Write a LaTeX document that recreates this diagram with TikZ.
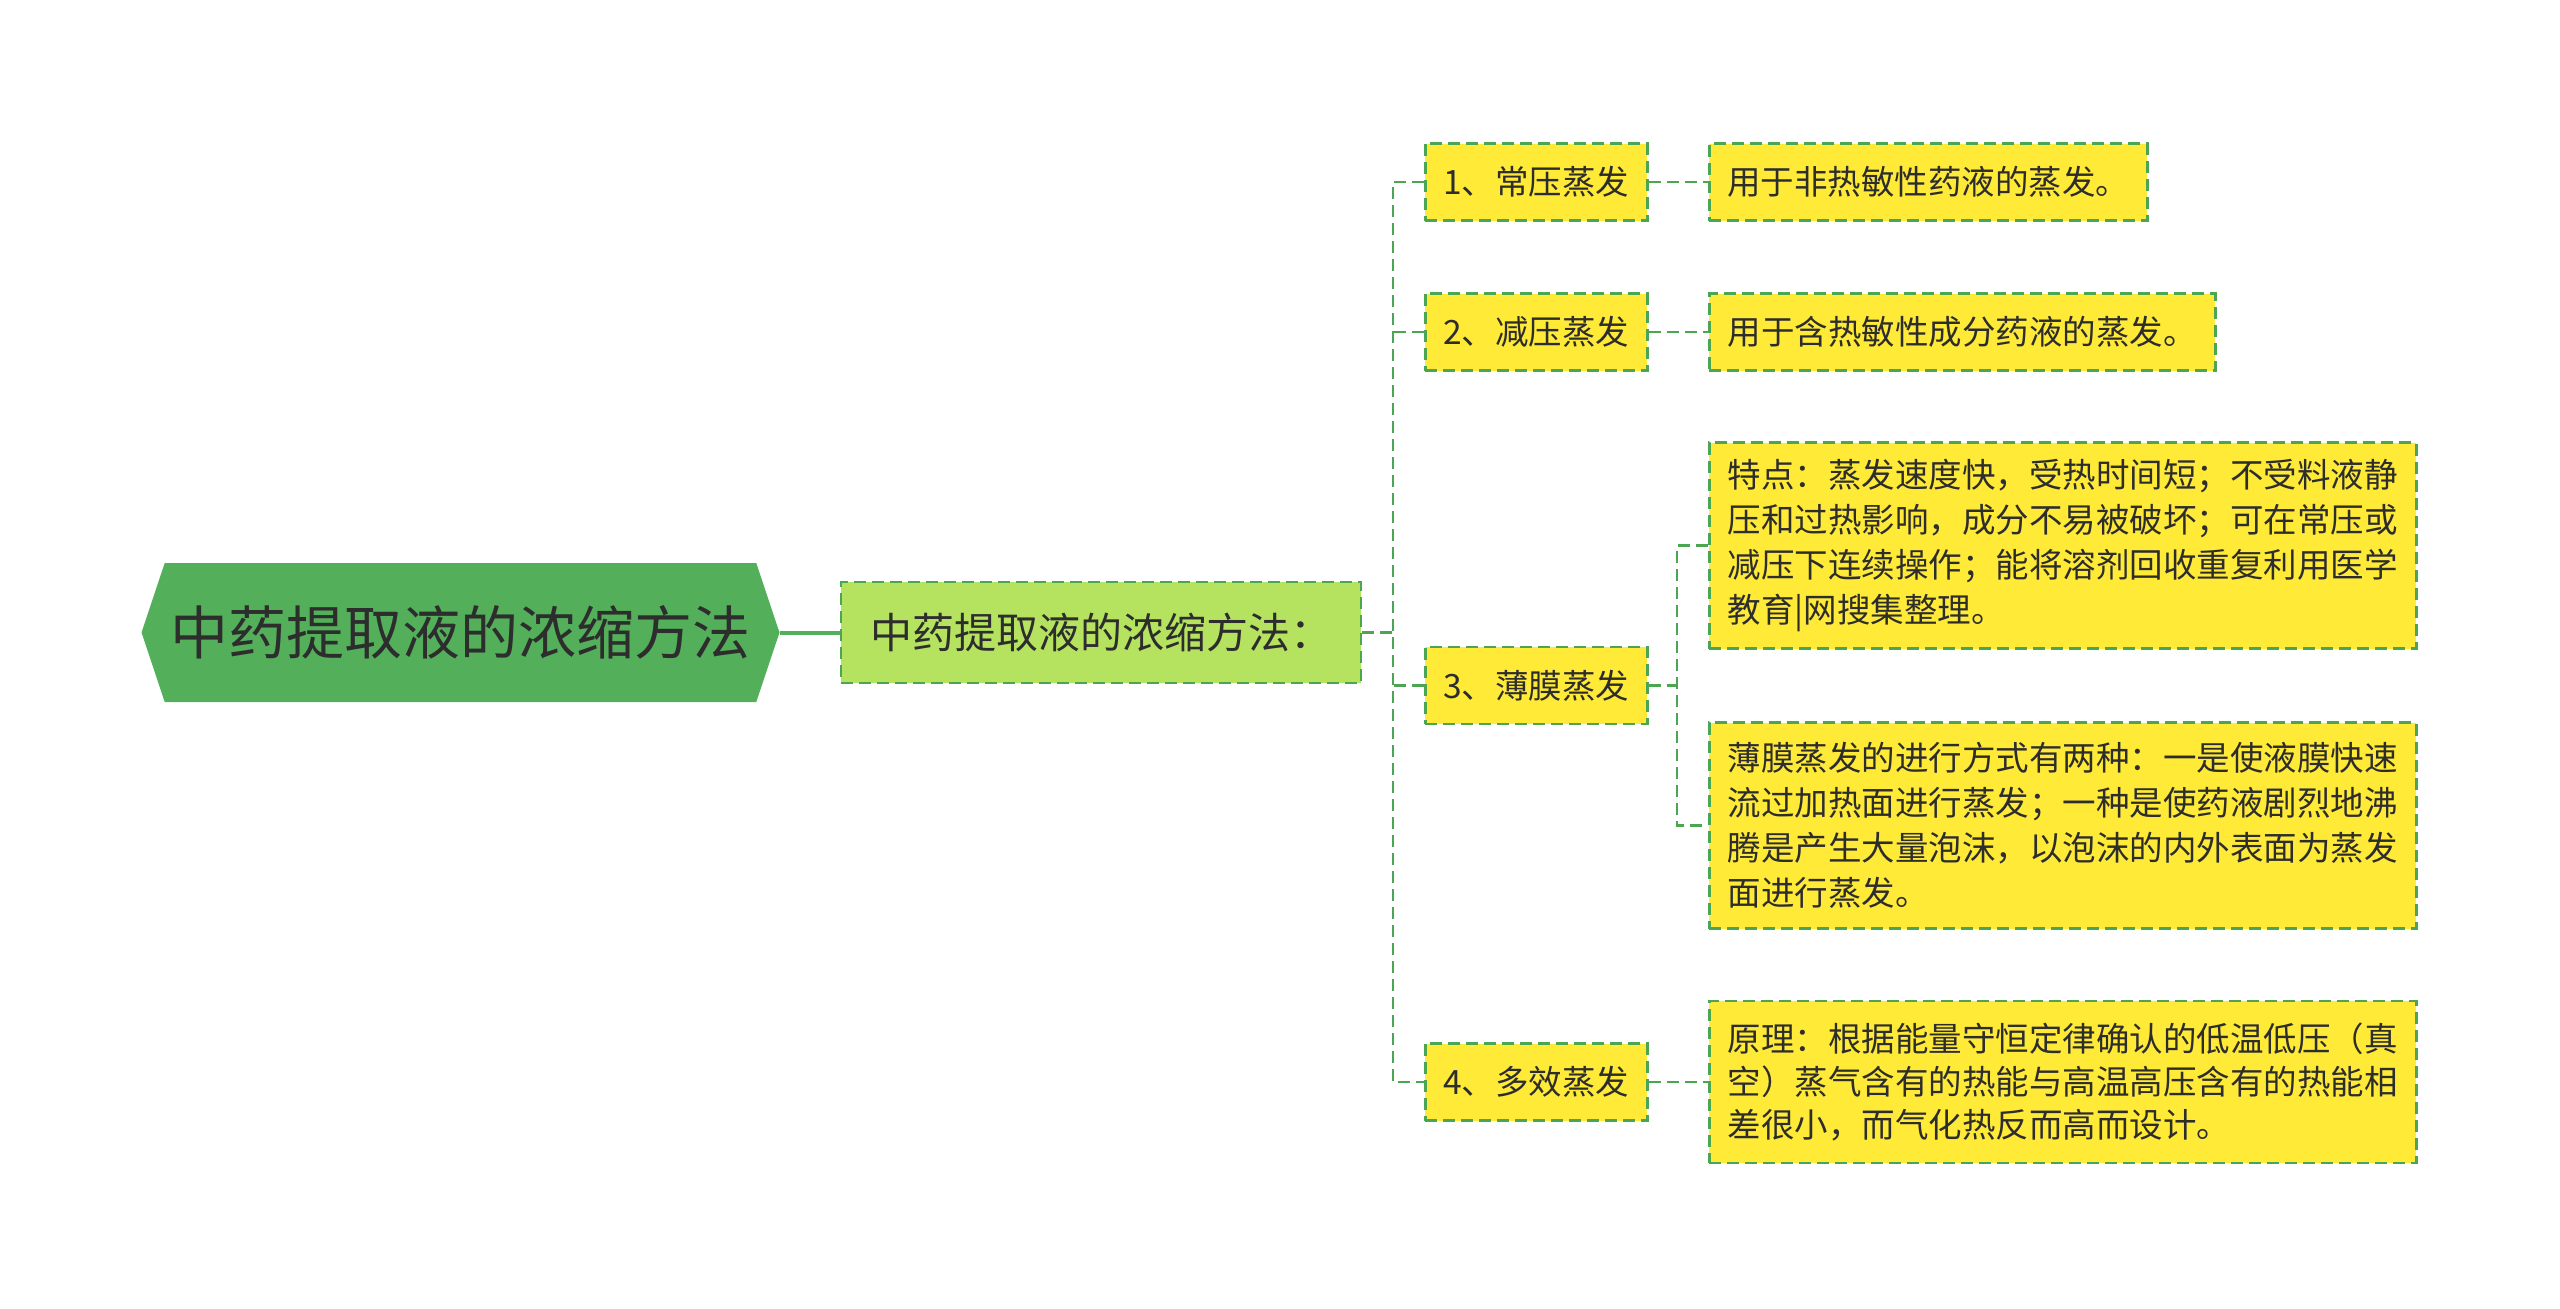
\documentclass[tikz,border=0pt]{standalone}
\usepackage{fontspec}
\setmainfont{Noto Sans CJK SC}
\usetikzlibrary{shapes.symbols}
\definecolor{rootgreen}{RGB}{83,175,90}
\definecolor{lightgreen}{RGB}{181,227,96}
\definecolor{leafyellow}{RGB}{255,234,55}
\definecolor{edgegreen}{RGB}{76,165,80}
\definecolor{inkgray}{RGB}{45,45,45}
\begin{document}
\begin{tikzpicture}[x=1pt,y=-1pt,
  rootnode/.style={signal, signal to=west and east, signal pointer angle=143, fill=rootgreen,
    minimum width=638pt, minimum height=139pt, inner sep=0pt, text=inkgray,
    font=\fontsize{58}{62}\selectfont},
  subnode/.style={draw=edgegreen, line width=2.5pt, dash pattern=on 12pt off 6pt, fill=lightgreen,
    minimum width=520pt, minimum height=101pt, text=inkgray, font=\fontsize{42}{48}\selectfont},
  itemnode/.style={draw=edgegreen, line width=2.5pt, dash pattern=on 12pt off 6pt, fill=leafyellow,
    anchor=west, minimum height=77pt, inner xsep=18pt, text=inkgray, align=left,
    font=\fontsize{33.5}{45}\selectfont},
  link/.style={edgegreen, line width=2.5pt, dash pattern=on 12pt off 6pt},
  rootlink/.style={rootgreen, line width=4pt}]
\useasboundingbox (0,0) rectangle (2560,1309);
\node[rootnode] (root) at (460.5,632.5) {中药提取液的浓缩方法};
\node[subnode]  (sub)  at (1101,632.5)  {中药提取液的浓缩方法：};
\node[itemnode, minimum width=222pt] (m1) at (1424,182)  {1、常压蒸发};
\node[itemnode, minimum width=222pt] (m2) at (1424,332)  {2、减压蒸发};
\node[itemnode, minimum width=222pt] (m3) at (1424,685.5) {3、薄膜蒸发};
\node[itemnode, minimum width=222pt] (m4) at (1424,1082) {4、多效蒸发};
\node[itemnode, minimum width=437pt] (d1) at (1708,182) {用于非热敏性药液的蒸发。};
\node[itemnode, minimum width=506pt] (d2) at (1708,332) {用于含热敏性成分药液的蒸发。};
\node[itemnode, minimum width=707pt, minimum height=206pt] (d3a) at (1708,545.5)
  {特点：蒸发速度快，受热时间短；不受料液静\\压和过热影响，成分不易被破坏；可在常压或\\减压下连续操作；能将溶剂回收重复利用医学\\教育|网搜集整理。};
\node[itemnode, minimum width=707pt, minimum height=206pt] (d3b) at (1708,825.5)
  {薄膜蒸发的进行方式有两种：一是使液膜快速\\流过加热面进行蒸发；一种是使药液剧烈地沸\\腾是产生大量泡沫，以泡沫的内外表面为蒸发\\面进行蒸发。};
\node[itemnode, minimum width=707pt, minimum height=162pt, font=\fontsize{33.5}{43}\selectfont] (d4) at (1708,1082)
  {原理：根据能量守恒定律确认的低温低压（真\\空）蒸气含有的热能与高温高压含有的热能相\\差很小，而气化热反而高而设计。};
\coordinate (fork) at (1393,632.5);
\coordinate (fork3) at (1677,685.5);
\draw[rootlink] (root.east) -- (sub.west);
\draw[link] (sub.east) -- (fork);
\draw[link] (m1.west) -| (fork) |- (m4.west);
\draw[link] (m2.west) -- (m2.west -| fork);
\draw[link] (m3.west) -- (m3.west -| fork);
\draw[link] (m1.east) -- (d1.west);
\draw[link] (m2.east) -- (d2.west);
\draw[link] (m4.east) -- (d4.west);
\draw[link] (m3.east) -- (fork3);
\draw[link] (d3a.west) -| (fork3) |- (d3b.west);
\end{tikzpicture}
\end{document}
